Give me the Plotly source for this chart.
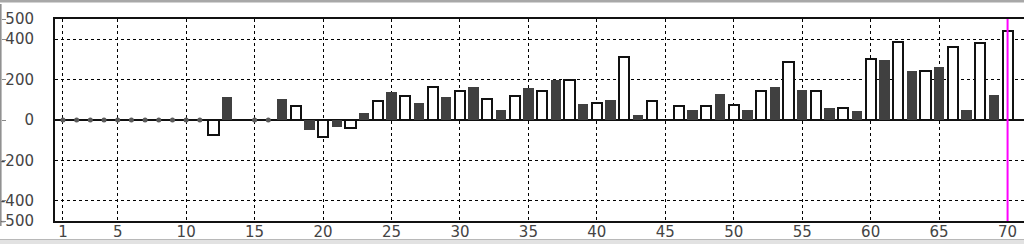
import plotly.graph_objects as go

days = list(range(1, 71))
values = [0, 0, 0, 0, 0, 0, 0, 0, 0, 0,
          0, -72, 112, None, 0, 0, 103, 68, -48, -85,
          -34, -40, 34, 95, 139, 119, 86, 163, 112, 146,
          163, 102, 52, 119, 156, 146, 198, 196, 78, 85,
          97, 310, 25, 93, None, 68, 52, 68, 129, 76,
          52, 146, 163, 285, 148, 146, 61, 59, 44, 302,
          295, 388, 244, 241, 260, 361, 52, 380, 122, 441]
x_ticks = [1, 5, 10, 15, 20, 25, 30, 35, 40, 45, 50, 55, 60, 65, 70]
y_ticks = [-500, -400, -200, 0, 200, 400, 500]
y_labels = ["-500", "-400", "-200", "0", "200", "400", "500"]
marker_day = 70

W, H = 1024, 244
PL, PT, PB = 55, 19, 23
ph = H - PT - PB


def py(pix):
    return (H - PB - pix) / ph


even_x = [d for d, v in zip(days, values) if d % 2 == 0 and v]
even_y = [v for d, v in zip(days, values) if d % 2 == 0 and v]
odd_x = [d for d, v in zip(days, values) if d % 2 == 1 and v]
odd_y = [v for d, v in zip(days, values) if d % 2 == 1 and v]
zero_x = [d for d, v in zip(days, values) if v == 0]
zero_y = [0 for d in zero_x]

fig = go.Figure()
fig.add_trace(go.Bar(x=even_x, y=even_y, width=0.74,
                     marker=dict(color="white", line=dict(color="#111111", width=2)),
                     showlegend=False))
fig.add_trace(go.Bar(x=odd_x, y=odd_y, width=0.76,
                     marker=dict(color="#404040", line=dict(color="#404040", width=0)),
                     showlegend=False))
fig.add_trace(go.Scatter(x=zero_x, y=zero_y, mode="markers",
                         marker=dict(color="#5a5a5a", size=5),
                         showlegend=False))
fig.add_trace(go.Scatter(x=[1], y=[0], yaxis="y2", mode="markers",
                         marker=dict(opacity=0), showlegend=False, hoverinfo="skip"))

axfont = dict(family="DejaVu Sans", size=15, color="#444444")

fig.update_layout(
    width=W, height=H,
    margin=dict(l=0, r=0, t=PT, b=PB, pad=0),
    paper_bgcolor="white", plot_bgcolor="white",
    barmode="overlay", bargap=0,
    xaxis=dict(domain=[PL / W, 1], range=[0.42, 71.2],
               tickvals=x_ticks, ticktext=[str(t) for t in x_ticks],
               tickfont=axfont, ticks="", ticklabelstandoff=-4,
               showgrid=True, gridcolor="#000000",
               griddash="dot", gridwidth=1.2, showline=True, linecolor="#111111",
               linewidth=2, mirror=True, zeroline=False),
    yaxis=dict(range=[-500, 500], tickvals=y_ticks, ticktext=y_labels,
               tickfont=axfont, ticks="", ticklabelstandoff=16,
               showgrid=True, gridcolor="#000000", griddash="dot", gridwidth=1.2,
               zeroline=True, zerolinecolor="#111111", zerolinewidth=2,
               showline=True, linecolor="#111111", linewidth=2),
    yaxis2=dict(range=[-500, 500], overlaying="y", anchor="free", position=0.001,
                side="right", tickvals=y_ticks, ticks="outside", ticklen=4,
                tickcolor="#888888", tickwidth=1, showticklabels=False,
                showgrid=False, zeroline=False, showline=False),
    shapes=[
        dict(type="line", xref="x", yref="paper", x0=marker_day, x1=marker_day,
             y0=0, y1=1, line=dict(color="#ff00ff", width=2)),
        dict(type="line", xref="paper", yref="paper", x0=0.0008, x1=0.0008,
             y0=py(226), y1=py(4), line=dict(color="#8a8a8a", width=1.5)),
        dict(type="rect", xref="paper", yref="paper", x0=0, x1=1,
             y0=py(2.5), y1=py(0), line=dict(width=0), fillcolor="#a8a8a8"),
        dict(type="rect", xref="paper", yref="paper", x0=0, x1=1,
             y0=py(244), y1=py(239), line=dict(width=0), fillcolor="#e2e2e2"),
        dict(type="line", xref="paper", yref="paper", x0=0, x1=1,
             y0=py(239.5), y1=py(239.5), line=dict(color="#b8b8b8", width=1)),
    ],
)

fig.write_html("out.html")
